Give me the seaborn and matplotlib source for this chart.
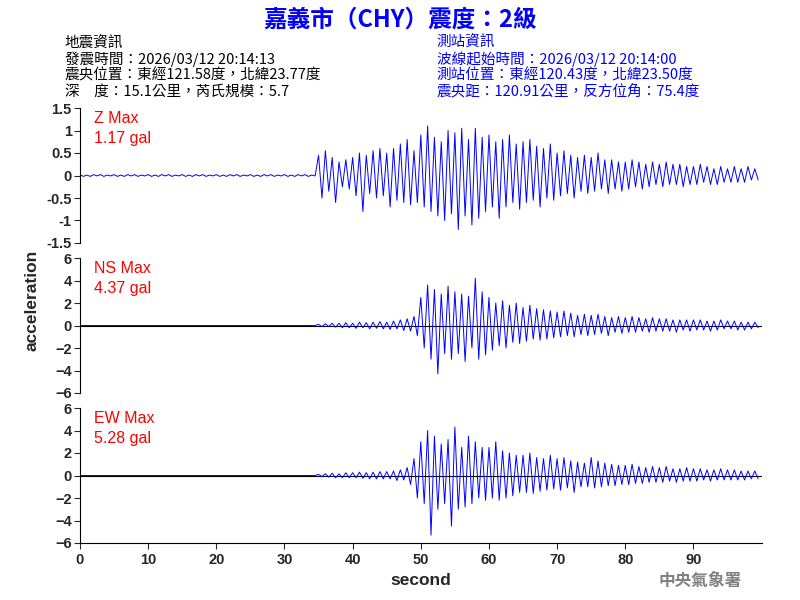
import numpy as np
import pandas as pd
import seaborn as sns
import matplotlib
matplotlib.use("Agg")
import matplotlib.pyplot as plt

sns.set_style("white")
plt.rcParams['font.family'] = ['Noto Sans CJK TC', 'DejaVu Sans']

step = 0.5
z_pre = [0.02,-0.02,0.01,-0.02,0.02,-0.01,0.02,-0.02,0.01,-0.01]*7
z_evt = [0.45,-0.5,0.55,-0.35,0.4,-0.6,0.3,-0.25,0.35,-0.3,
         0.4,-0.45,0.5,-0.8,0.45,-0.4,0.55,-0.5,0.6,-0.45,
         0.5,-0.7,0.6,-0.55,0.7,-0.6,0.8,-0.65,0.55,-0.6,
         0.9,-0.7,1.1,-0.8,0.85,-0.9,0.75,-1.0,1.0,-0.85,
         0.95,-1.2,1.05,-0.9,0.8,-1.1,1.05,-0.95,0.85,-0.8,
         0.9,-0.7,0.75,-0.95,0.8,-0.7,0.9,-0.6,0.7,-0.75,
         0.75,-0.6,0.8,-0.55,0.65,-0.7,0.6,-0.5,0.7,-0.55,
         0.5,-0.45,0.55,-0.4,0.45,-0.5,0.4,-0.35,0.45,-0.4,
         0.4,-0.35,0.5,-0.3,0.35,-0.4,0.35,-0.3,0.3,-0.35,
         0.3,-0.3,0.35,-0.25,0.3,-0.3,0.25,-0.25,0.3,-0.2,
         0.25,-0.25,0.3,-0.2,0.25,-0.2,0.25,-0.25,0.2,-0.2,
         0.2,-0.2,0.25,-0.15,0.2,-0.2,0.15,-0.2,0.2,-0.15,
         0.15,-0.15,0.2,-0.15,0.15,-0.15,0.2,-0.1,0.15,-0.1]
ns_pre = [0.0]*70
ns_evt = [0.1,-0.1,0.15,-0.1,0.2,-0.15,0.2,-0.2,0.25,-0.2,
          0.2,-0.25,0.3,-0.2,0.25,-0.3,0.3,-0.25,0.35,-0.3,
          0.3,-0.35,0.4,-0.3,0.5,-0.45,0.6,-0.5,0.8,-0.9,
          2.5,-2.0,3.6,-3.0,3.2,-4.3,2.8,-2.5,3.5,-3.0,
          3.0,-2.5,2.8,-3.2,2.6,-2.0,4.2,-3.0,3.0,-2.6,
          2.5,-2.2,2.0,-1.8,2.2,-2.0,1.8,-1.5,2.0,-1.6,
          1.6,-1.4,1.8,-1.2,1.5,-1.3,1.4,-1.2,1.3,-1.1,
          1.2,-1.0,1.3,-0.9,1.1,-1.0,0.9,-0.8,1.0,-0.9,
          0.9,-0.8,1.0,-0.7,0.8,-0.9,0.7,-0.6,0.8,-0.7,
          0.7,-0.6,0.8,-0.6,0.7,-0.5,0.6,-0.6,0.7,-0.5,
          0.6,-0.5,0.6,-0.5,0.5,-0.6,0.5,-0.4,0.5,-0.5,
          0.5,-0.4,0.5,-0.4,0.4,-0.5,0.4,-0.4,0.5,-0.3,
          0.4,-0.3,0.4,-0.4,0.3,-0.4,0.3,-0.3,0.3,-0.2]
ew_pre = [0.0]*70
ew_evt = [0.1,-0.1,0.15,-0.15,0.2,-0.2,0.15,-0.2,0.25,-0.2,
          0.25,-0.2,0.3,-0.25,0.25,-0.3,0.3,-0.3,0.35,-0.3,
          0.35,-0.3,0.4,-0.45,0.5,-0.4,0.7,-0.8,1.5,-2.0,
          3.0,-2.5,4.0,-5.3,3.5,-3.0,2.8,-2.5,3.2,-4.5,
          4.3,-3.0,2.5,-2.8,3.5,-2.5,3.0,-2.0,2.5,-2.2,
          2.5,-2.0,3.0,-2.2,2.2,-2.0,2.0,-1.8,1.8,-1.5,
          1.8,-1.5,2.0,-1.6,1.6,-1.4,1.5,-1.3,1.8,-1.2,
          1.5,-1.3,1.6,-1.1,1.3,-1.5,1.2,-1.0,1.1,-1.0,
          1.6,-1.1,1.3,-1.0,1.1,-0.9,1.0,-0.9,0.9,-0.8,
          0.9,-0.8,1.0,-0.7,0.8,-0.7,0.7,-0.6,0.8,-0.6,
          0.7,-0.6,0.8,-0.5,0.6,-0.6,0.6,-0.5,0.7,-0.5,
          0.6,-0.5,0.6,-0.4,0.5,-0.5,0.5,-0.4,0.6,-0.4,
          0.5,-0.4,0.5,-0.4,0.4,-0.4,0.4,-0.3,0.4,-0.3]

channels = [("Z Max", "1.17 gal", z_pre + z_evt, (-1.5, 1.5), [1.5,1,0.5,0,-0.5,-1,-1.5], ["1.5","1","0.5","0","-0.5","-1","-1.5"]),
            ("NS Max", "4.37 gal", ns_pre + ns_evt, (-6, 6), [-6,-4,-2,0,2,4,6], None),
            ("EW Max", "5.28 gal", ew_pre + ew_evt, (-6, 6), [-6,-4,-2,0,2,4,6], None)]

LAT = "Liberation Sans"
fig = plt.figure(figsize=(8, 6), dpi=100)
bottoms = [0.595, 0.345, 0.095]
for i, (name, val, data, ylim, yt, ytl) in enumerate(channels):
    ax = fig.add_axes([0.1, bottoms[i], 0.852, 0.225])
    df = pd.DataFrame({"t": np.arange(len(data)) * step, "a": data})
    if i > 0:
        ax.axhline(0, color="black", lw=0.8, zorder=1)
    sns.lineplot(data=df, x="t", y="a", ax=ax, color="blue", lw=0.7, zorder=2)
    ax.set_xlim(0, 100)
    ax.set_ylim(*ylim)
    ax.set_yticks(yt)
    if ytl:
        ax.set_yticklabels(ytl)
    ax.set_ylabel("")
    ax.set_xlabel("")
    ax.tick_params(axis="y", left=True, length=4, labelsize=10.5, pad=2)
    for s in ["top", "right"]:
        ax.spines[s].set_visible(False)
    ax.spines["left"].set_color("black")
    ax.text(0.02, 0.98, name, transform=ax.transAxes, color="red", fontsize=11.5, va="top", family=LAT)
    ax.text(0.02, 0.83, val, transform=ax.transAxes, color="red", fontsize=11.5, va="top", family=LAT)
    if i < 2:
        ax.spines["bottom"].set_visible(False)
        ax.set_xticks([])
    else:
        ax.spines["bottom"].set_color("black")
        ax.set_xticks(range(0, 100, 10))
        ax.tick_params(axis="x", bottom=True, length=4, labelsize=10.5)
        ax.set_xlabel("second", fontsize=12.5, family=LAT, weight="bold")
    for lab in ax.get_xticklabels() + ax.get_yticklabels():
        lab.set_family(LAT)
        lab.set_weight("bold")

fig.text(0.04, 0.5, "acceleration", rotation=90, va="center", ha="center", fontsize=12.5, family=LAT, weight="bold")
fig.text(0.5, 0.968, "嘉義市（CHY）震度：2級", color="blue", fontsize=17, weight="bold", ha="center", va="center")
left = ["地震資訊", "發震時間：2026/03/12 20:14:13", "震央位置：東經121.58度，北緯23.77度", "深　度：15.1公里，芮氏規模：5.7"]
right = ["測站資訊", "波線起始時間：2026/03/12 20:14:00", "測站位置：東經120.43度，北緯23.50度", "震央距：120.91公里，反方位角：75.4度"]
for k, (l, r) in enumerate(zip(left, right)):
    y = 0.928 - k * 0.027
    fig.text(0.081, y, l, fontsize=10.5, color="black", va="center")
    fig.text(0.546, y, r, fontsize=10.5, color="blue", va="center")
fig.text(0.875, 0.032, "中央氣象署", fontsize=12, color="gray", ha="center", va="center", weight="bold")
fig.savefig("out.png", dpi=100)
